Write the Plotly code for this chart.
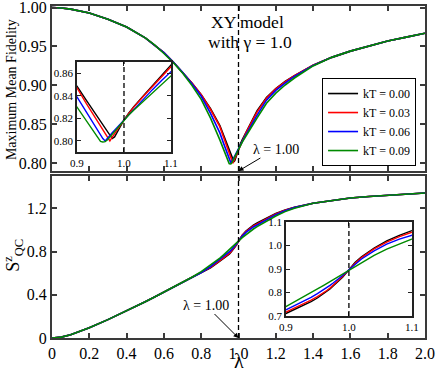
import plotly.graph_objects as go

# lambda grid (dense near the critical point)
lam = [0, 0.05, 0.1, 0.2, 0.3, 0.4, 0.5, 0.55, 0.6, 0.65, 0.7, 0.75, 0.8, 0.85, 0.9,
       0.92, 0.94, 0.95, 0.955, 0.96, 0.965, 0.97, 0.975, 0.98, 0.99, 1.0,
       1.01, 1.02, 1.04, 1.06, 1.08, 1.1, 1.15, 1.2, 1.25, 1.3, 1.4, 1.5,
       1.6, 1.7, 1.8, 1.9, 2.0]

kT_labels = ["kT = 0.00", "kT = 0.03", "kT = 0.06", "kT = 0.09"]
colors = ["black", "#ff0000", "#0000ff", "#008a00"]

# maximum mean fidelity
fid_00 = [1.000, 0.9995, 0.998, 0.993, 0.985, 0.975, 0.961, 0.952, 0.942, 0.930, 0.917, 0.903, 0.888, 0.870, 0.8485,
          0.836, 0.8235, 0.817, 0.814, 0.811, 0.808, 0.805, 0.802, 0.8035, 0.811, 0.8185,
          0.8245, 0.830, 0.8395, 0.849, 0.8585, 0.8675, 0.8845, 0.896, 0.905, 0.9125, 0.926, 0.936,
          0.944, 0.951, 0.957, 0.962, 0.967]
fid_03 = [1.000, 0.9995, 0.998, 0.993, 0.985, 0.975, 0.961, 0.952, 0.942, 0.930, 0.917, 0.903, 0.888, 0.869, 0.847,
          0.833, 0.8195, 0.8125, 0.809, 0.806, 0.8025, 0.800, 0.8032, 0.806, 0.8125, 0.8185,
          0.8245, 0.8295, 0.839, 0.848, 0.857, 0.866, 0.8835, 0.8955, 0.9045, 0.9125, 0.926, 0.936,
          0.944, 0.951, 0.957, 0.962, 0.967]
fid_06 = [1.000, 0.9995, 0.998, 0.993, 0.985, 0.975, 0.961, 0.952, 0.942, 0.930, 0.917, 0.902, 0.886, 0.864, 0.839,
          0.8255, 0.812, 0.806, 0.802, 0.7998, 0.8025, 0.805, 0.8072, 0.8095, 0.814, 0.8185,
          0.8232, 0.8278, 0.8368, 0.8453, 0.8537, 0.8618, 0.881, 0.8935, 0.903, 0.9115, 0.9255, 0.936,
          0.944, 0.951, 0.957, 0.962, 0.967]
fid_09 = [1.000, 0.9995, 0.998, 0.993, 0.985, 0.975, 0.961, 0.952, 0.941, 0.9295, 0.916, 0.900, 0.882, 0.858, 0.830,
          0.8175, 0.805, 0.7995, 0.799, 0.7993, 0.801, 0.8035, 0.806, 0.8085, 0.8135, 0.8185,
          0.823, 0.827, 0.835, 0.843, 0.8505, 0.8582, 0.877, 0.890, 0.9005, 0.9095, 0.925, 0.936,
          0.944, 0.951, 0.957, 0.962, 0.967]

# S^z_QC
sqc_00 = [0, 0.008, 0.03, 0.095, 0.17, 0.25, 0.335, 0.38, 0.425, 0.47, 0.515, 0.556, 0.600, 0.650, 0.711,
          0.735, 0.762, 0.777, 0.786, 0.795, 0.805, 0.816, 0.828, 0.840, 0.865, 0.897,
          0.929, 0.952, 0.990, 1.020, 1.044, 1.064, 1.110, 1.152, 1.185, 1.210, 1.248, 1.275,
          1.296, 1.310, 1.322, 1.333, 1.342]
sqc_03 = [0, 0.008, 0.03, 0.095, 0.17, 0.25, 0.335, 0.38, 0.425, 0.47, 0.515, 0.557, 0.602, 0.654, 0.717,
          0.741, 0.768, 0.783, 0.791, 0.800, 0.809, 0.819, 0.830, 0.844, 0.868, 0.897,
          0.925, 0.949, 0.986, 1.015, 1.038, 1.057, 1.104, 1.149, 1.183, 1.209, 1.248, 1.275,
          1.296, 1.310, 1.322, 1.333, 1.342]
sqc_06 = [0, 0.008, 0.03, 0.095, 0.17, 0.25, 0.335, 0.38, 0.425, 0.47, 0.515, 0.559, 0.607, 0.662, 0.726,
          0.752, 0.780, 0.796, 0.804, 0.813, 0.822, 0.831, 0.841, 0.851, 0.873, 0.897,
          0.921, 0.943, 0.978, 1.006, 1.028, 1.046, 1.095, 1.142, 1.179, 1.207, 1.248, 1.275,
          1.296, 1.310, 1.322, 1.333, 1.342]
sqc_09 = [0, 0.008, 0.03, 0.095, 0.17, 0.25, 0.335, 0.38, 0.425, 0.47, 0.516, 0.562, 0.614, 0.674, 0.740,
          0.769, 0.799, 0.815, 0.823, 0.831, 0.839, 0.847, 0.855, 0.864, 0.880, 0.897,
          0.913, 0.929, 0.958, 0.985, 1.009, 1.031, 1.083, 1.130, 1.170, 1.202, 1.248, 1.275,
          1.296, 1.310, 1.322, 1.333, 1.342]

fid = [fid_00, fid_03, fid_06, fid_09]
sqc = [sqc_00, sqc_03, sqc_06, sqc_09]

x_main_ticks = [0, 0.2, 0.4, 0.6, 0.8, 1.0, 1.2, 1.4, 1.6, 1.8, 2.0]
x_main_text = ["0", "0.2", "0.4", "0.6", "0.8", "1.0", "1.2", "1.4", "1.6", "1.8", "2.0"]
y_fid_ticks = [0.80, 0.85, 0.90, 0.95, 1.00]
y_sqc_ticks = [0, 0.4, 0.8, 1.2]
y_sqc_text = ["0", "0.4", "0.8", "1.2"]
x_in_ticks = [0.9, 1.0, 1.1]
y_in1_ticks = [0.80, 0.82, 0.84, 0.86]
y_in2_ticks = [0.7, 0.8, 0.9, 1.0, 1.1]

FONT = "Liberation Serif"
fig = go.Figure()

for i in range(4):
    fig.add_trace(go.Scatter(x=lam, y=fid[i], mode="lines", name=kT_labels[i],
                             line=dict(color=colors[i], width=1.6), xaxis="x", yaxis="y"))
    fig.add_trace(go.Scatter(x=lam, y=sqc[i], mode="lines", showlegend=False,
                             line=dict(color=colors[i], width=1.6), xaxis="x2", yaxis="y2"))
    fig.add_trace(go.Scatter(x=lam, y=fid[i], mode="lines", showlegend=False,
                             line=dict(color=colors[i], width=1.4), xaxis="x3", yaxis="y3"))
    fig.add_trace(go.Scatter(x=lam, y=sqc[i], mode="lines", showlegend=False,
                             line=dict(color=colors[i], width=1.4), xaxis="x4", yaxis="y4"))

frame = dict(showline=True, linecolor="#3a3a3a", linewidth=2, mirror="ticks", ticks="inside",
             ticklen=5, tickwidth=1.5, tickcolor="#3a3a3a", showgrid=False, zeroline=False,
             automargin=False, ticklabeloverflow="allow",
             tickfont=dict(family=FONT, size=16, color="black"))
inset = dict(showline=True, linecolor="#222", linewidth=1.5, mirror="ticks", ticks="inside",
             ticklen=4, tickwidth=1, tickcolor="#222", showgrid=False, zeroline=False,
             automargin=False, ticklabeloverflow="allow",
             tickfont=dict(family=FONT, size=11, color="black"))

fig.update_layout(
    width=436, height=374, autosize=False,
    margin=dict(l=52, r=11, t=6, b=36, autoexpand=False),
    paper_bgcolor="white", plot_bgcolor="white",
    font=dict(family=FONT, color="black"),
    xaxis=dict(frame, domain=[0, 1], anchor="y", range=[0, 2], tickvals=x_main_ticks, showticklabels=False),
    yaxis=dict(frame, domain=[0.503, 1], anchor="x", range=[0.79, 1.002], tickvals=y_fid_ticks,
               ticktext=["%.2f" % v for v in y_fid_ticks]),
    xaxis2=dict(frame, domain=[0, 1], anchor="y2", range=[0, 2], tickvals=x_main_ticks, ticktext=x_main_text),
    yaxis2=dict(frame, domain=[0, 0.488], anchor="x2", range=[0, 1.5], tickvals=y_sqc_ticks, ticktext=y_sqc_text),
    xaxis3=dict(inset, domain=[0.067, 0.319], anchor="y3", range=[0.9, 1.1], tickvals=x_in_ticks,
                ticktext=["%.1f" % v for v in x_in_ticks]),
    yaxis3=dict(inset, domain=[0.56, 0.831], anchor="x3", range=[0.79, 0.87], tickvals=y_in1_ticks,
                ticktext=["%.2f" % v for v in y_in1_ticks]),
    xaxis4=dict(inset, domain=[0.627, 0.965], anchor="y4", range=[0.9, 1.1], tickvals=x_in_ticks,
                ticktext=["%.1f" % v for v in x_in_ticks]),
    yaxis4=dict(inset, domain=[0.066, 0.349], anchor="x4", range=[0.7, 1.1], tickvals=y_in2_ticks,
                ticktext=["%.1f" % v for v in y_in2_ticks]),
    legend=dict(x=0.724, y=0.783, xanchor="left", yanchor="top", bgcolor="white",
                bordercolor="black", borderwidth=1, font=dict(family=FONT, size=12),
                itemwidth=30, tracegroupgap=0),
)

dash = dict(color="black", width=1.3, dash="5px,3px")
for xr, yr in [("x", "y domain"), ("x2", "y2 domain"), ("x3", "y3 domain"), ("x4", "y4 domain")]:
    fig.add_shape(type="line", xref=xr, yref=yr, x0=1.0, x1=1.0, y0=0, y1=1, line=dash)

txt = dict(xref="paper", yref="paper", showarrow=False, xanchor="center", yanchor="middle")
fig.add_annotation(txt, x=-0.107, y=0.747, text="Maximum Mean Fidelity", textangle=-90, font=dict(size=14))
fig.add_annotation(txt, x=-0.105, y=0.25, text="S<sup>z</sup><sub>QC</sub>", textangle=-90, font=dict(size=18))
fig.add_annotation(xref="paper", yref="paper", showarrow=False, xanchor="center", yanchor="bottom",
                   x=0.5, y=-0.108, text="λ", font=dict(size=20))
fig.add_annotation(txt, x=0.525, y=0.952, text="XY model", font=dict(size=17.5))
fig.add_annotation(txt, x=0.531, y=0.892, text="with γ = 1.0", font=dict(size=17.5))
fig.add_annotation(xref="x", yref="y", x=1.0, y=0.79, ax=37, ay=-22, text="λ = 1.00",
                   showarrow=True, arrowhead=2, arrowsize=1, arrowwidth=1, arrowcolor="black",
                   font=dict(size=14))
fig.add_annotation(xref="x2", yref="y2", x=1.0, y=0.0, ax=-33, ay=-33, text="λ = 1.00",
                   showarrow=True, arrowhead=2, arrowsize=1, arrowwidth=1, arrowcolor="black",
                   font=dict(size=14))

fig.write_html("out.html", config={"displayModeBar": False},
               post_script="document.body.style.margin='0';document.body.style.padding='0';")
